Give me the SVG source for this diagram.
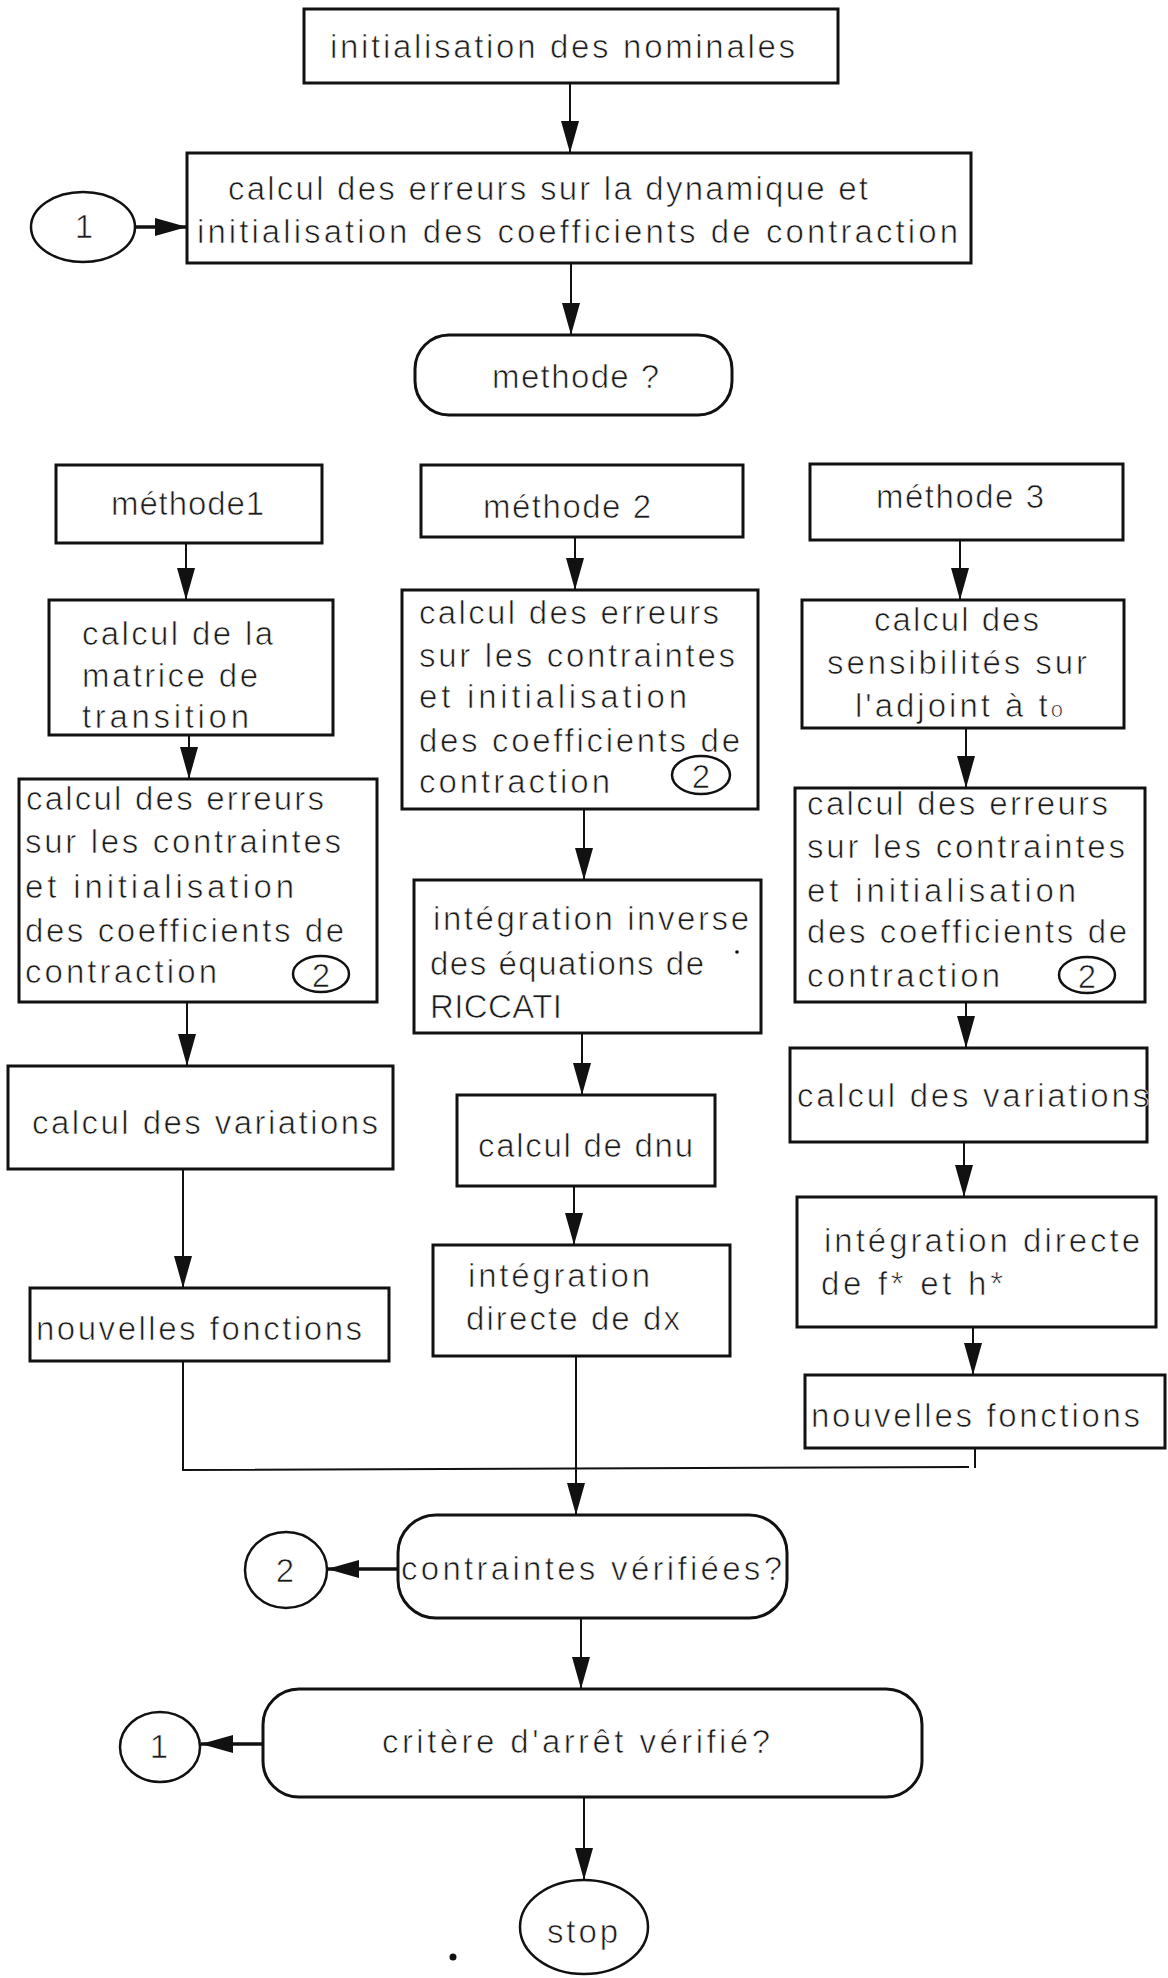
<svg xmlns="http://www.w3.org/2000/svg" width="1168" height="1978" viewBox="0 0 1168 1978">
<defs>
<style>
.box{fill:#fff;stroke:#111;stroke-width:3}
.ell{fill:#fff;stroke:#111;stroke-width:2.5}
.t{font-family:"Liberation Sans",Arial,sans-serif;font-size:33px;fill:#1a1a1a;stroke:#fff;stroke-width:0.7px}
.s{font-size:33px}
.m{text-anchor:middle}
.c{stroke:#111;stroke-width:2;fill:none}
.ck{stroke:#111;stroke-width:3.5;fill:none}
</style>
<marker id="ah" markerUnits="userSpaceOnUse" markerWidth="32" markerHeight="18" viewBox="0 0 32 18" refX="32" refY="9" orient="auto">
<path d="M0,0 L32,9 L0,18 Z" fill="#111"/>
</marker>
</defs>
<rect width="1168" height="1978" fill="#fff"/>

<g id="connectors">
<line class="c" x1="570" y1="83" x2="570" y2="153" marker-end="url(#ah)"/>
<line class="ck" x1="135" y1="227" x2="187" y2="227" marker-end="url(#ah)"/>
<line class="c" x1="571" y1="263" x2="571" y2="335" marker-end="url(#ah)"/>
<line class="c" x1="186" y1="543" x2="186" y2="600" marker-end="url(#ah)"/>
<line class="c" x1="189" y1="735" x2="189" y2="779" marker-end="url(#ah)"/>
<line class="c" x1="187" y1="1002" x2="187" y2="1066" marker-end="url(#ah)"/>
<line class="c" x1="183" y1="1169" x2="183" y2="1288" marker-end="url(#ah)"/>
<polyline class="c" points="183,1361 183,1470 969,1467"/>
<line class="c" x1="575" y1="537" x2="575" y2="590" marker-end="url(#ah)"/>
<line class="c" x1="584" y1="809" x2="584" y2="880" marker-end="url(#ah)"/>
<line class="c" x1="582" y1="1033" x2="582" y2="1095" marker-end="url(#ah)"/>
<line class="c" x1="574" y1="1186" x2="574" y2="1245" marker-end="url(#ah)"/>
<line class="c" x1="576" y1="1356" x2="576" y2="1515" marker-end="url(#ah)"/>
<line class="c" x1="960" y1="540" x2="960" y2="600" marker-end="url(#ah)"/>
<line class="c" x1="966" y1="728" x2="966" y2="788" marker-end="url(#ah)"/>
<line class="c" x1="966" y1="1002" x2="966" y2="1048" marker-end="url(#ah)"/>
<line class="c" x1="964" y1="1142" x2="964" y2="1197" marker-end="url(#ah)"/>
<line class="c" x1="973" y1="1327" x2="973" y2="1375" marker-end="url(#ah)"/>
<line class="c" x1="975" y1="1448" x2="975" y2="1468"/>
<line class="ck" x1="398" y1="1569" x2="327" y2="1569" marker-end="url(#ah)"/>
<line class="c" x1="581" y1="1618" x2="581" y2="1689" marker-end="url(#ah)"/>
<line class="ck" x1="263" y1="1744" x2="201" y2="1744" marker-end="url(#ah)"/>
<line class="c" x1="584" y1="1797" x2="584" y2="1880" marker-end="url(#ah)"/>
</g>

<g id="n-init">
<rect class="box" x="304" y="9" width="534" height="74"/>
<text class="t" x="330" y="58" textLength="465" lengthAdjust="spacing">initialisation des nominales</text>
</g>

<g id="n-c1">
<ellipse class="ell" cx="83" cy="227" rx="52" ry="35"/>
<text class="t m" x="84" y="238">1</text>
</g>

<g id="n-dyn">
<rect class="box" x="187" y="153" width="784" height="110"/>
<text class="t" x="228" y="200" textLength="640" lengthAdjust="spacing">calcul des erreurs sur la dynamique et</text>
<text class="t" x="197" y="243" textLength="761" lengthAdjust="spacing">initialisation des coefficients de contraction</text>
</g>

<g id="n-methode">
<rect class="box" x="415" y="335" width="317" height="80" rx="34"/>
<text class="t" x="492" y="388" textLength="167" lengthAdjust="spacing">methode ?</text>
</g>

<g id="n-m1">
<rect class="box" x="56" y="465" width="266" height="78"/>
<text class="t" x="111" y="515" textLength="153" lengthAdjust="spacing">méthode1</text>
</g>
<g id="n-m2">
<rect class="box" x="421" y="465" width="322" height="72"/>
<text class="t" x="483" y="518" textLength="168" lengthAdjust="spacing">méthode 2</text>
</g>
<g id="n-m3">
<rect class="box" x="810" y="464" width="313" height="76"/>
<text class="t" x="876" y="508" textLength="168" lengthAdjust="spacing">méthode 3</text>
</g>

<g id="n-matrice">
<rect class="box" x="49" y="600" width="284" height="135"/>
<text class="t" x="82" y="645" textLength="191" lengthAdjust="spacing">calcul de la</text>
<text class="t" x="82" y="687" textLength="176" lengthAdjust="spacing">matrice de</text>
<text class="t" x="82" y="728" textLength="167" lengthAdjust="spacing">transition</text>
</g>

<g id="n-err2">
<rect class="box" x="402" y="590" width="356" height="219"/>
<text class="t" x="419" y="624" textLength="300" lengthAdjust="spacing">calcul des erreurs</text>
<text class="t" x="419" y="667" textLength="316" lengthAdjust="spacing">sur les contraintes</text>
<text class="t" x="419" y="708" textLength="268" lengthAdjust="spacing">et initialisation</text>
<text class="t" x="419" y="752" textLength="321" lengthAdjust="spacing">des coefficients de</text>
<text class="t" x="419" y="793" textLength="191" lengthAdjust="spacing">contraction</text>
<ellipse class="ell" cx="701" cy="775" rx="29" ry="19"/>
<text class="t s m" x="701" y="788">2</text>
</g>

<g id="n-sens">
<rect class="box" x="802" y="600" width="322" height="128"/>
<text class="t" x="874" y="631" textLength="165" lengthAdjust="spacing">calcul des</text>
<text class="t" x="827" y="674" textLength="260" lengthAdjust="spacing">sensibilités sur</text>
<text class="t" x="855" y="717" textLength="208" lengthAdjust="spacing">l'adjoint à t<tspan font-size="22">o</tspan></text>
</g>

<g id="n-err1">
<rect class="box" x="19" y="779" width="358" height="223"/>
<text class="t" x="26" y="810" textLength="298" lengthAdjust="spacing">calcul des erreurs</text>
<text class="t" x="25" y="853" textLength="316" lengthAdjust="spacing">sur les contraintes</text>
<text class="t" x="25" y="898" textLength="269" lengthAdjust="spacing">et initialisation</text>
<text class="t" x="25" y="942" textLength="319" lengthAdjust="spacing">des coefficients de</text>
<text class="t" x="25" y="983" textLength="192" lengthAdjust="spacing">contraction</text>
<ellipse class="ell" cx="321" cy="974" rx="28" ry="18"/>
<text class="t s m" x="321" y="987">2</text>
</g>

<g id="n-err3">
<rect class="box" x="795" y="788" width="350" height="214"/>
<text class="t" x="807" y="815" textLength="301" lengthAdjust="spacing">calcul des erreurs</text>
<text class="t" x="807" y="858" textLength="318" lengthAdjust="spacing">sur les contraintes</text>
<text class="t" x="807" y="902" textLength="269" lengthAdjust="spacing">et initialisation</text>
<text class="t" x="807" y="943" textLength="320" lengthAdjust="spacing">des coefficients de</text>
<text class="t" x="807" y="987" textLength="193" lengthAdjust="spacing">contraction</text>
<ellipse class="ell" cx="1087" cy="975" rx="28" ry="18"/>
<text class="t s m" x="1087" y="988">2</text>
</g>

<g id="n-riccati">
<rect class="box" x="414" y="880" width="347" height="153"/>
<text class="t" x="433" y="930" textLength="316" lengthAdjust="spacing">intégration inverse</text>
<text class="t" x="430" y="975" textLength="274" lengthAdjust="spacing">des équations de</text>
<text class="t" x="430" y="1018" textLength="132" lengthAdjust="spacing">RICCATI</text>
<circle cx="737" cy="952" r="1.8" fill="#111"/>
</g>

<g id="n-dnu">
<rect class="box" x="457" y="1095" width="258" height="91"/>
<text class="t" x="478" y="1157" textLength="215" lengthAdjust="spacing">calcul de dnu</text>
</g>

<g id="n-var1">
<rect class="box" x="8" y="1066" width="385" height="103"/>
<text class="t" x="32" y="1134" textLength="346" lengthAdjust="spacing">calcul des variations</text>
</g>

<g id="n-var3">
<rect class="box" x="790" y="1048" width="357" height="94"/>
<text class="t" x="797" y="1107" textLength="352" lengthAdjust="spacing">calcul des variations</text>
</g>

<g id="n-intf">
<rect class="box" x="797" y="1197" width="359" height="130"/>
<text class="t" x="824" y="1252" textLength="316" lengthAdjust="spacing">intégration directe</text>
<text class="t" x="821" y="1295" textLength="182" lengthAdjust="spacing">de f* et h*</text>
</g>

<g id="n-nouv1">
<rect class="box" x="30" y="1288" width="359" height="73"/>
<text class="t" x="36" y="1340" textLength="326" lengthAdjust="spacing">nouvelles fonctions</text>
</g>

<g id="n-intdx">
<rect class="box" x="433" y="1245" width="297" height="111"/>
<text class="t" x="468" y="1287" textLength="182" lengthAdjust="spacing">intégration</text>
<text class="t" x="466" y="1330" textLength="214" lengthAdjust="spacing">directe de dx</text>
</g>

<g id="n-nouv3">
<rect class="box" x="805" y="1375" width="360" height="73"/>
<text class="t" x="811" y="1427" textLength="329" lengthAdjust="spacing">nouvelles fonctions</text>
</g>

<g id="n-contr">
<rect class="box" x="398" y="1515" width="389" height="103" rx="38"/>
<text class="t" x="401" y="1580" textLength="381" lengthAdjust="spacing">contraintes vérifiées?</text>
</g>

<g id="n-c2">
<ellipse class="ell" cx="286" cy="1570" rx="41" ry="38"/>
<text class="t m" x="285" y="1582">2</text>
</g>

<g id="n-critere">
<rect class="box" x="263" y="1689" width="659" height="108" rx="36"/>
<text class="t" x="382" y="1753" textLength="388" lengthAdjust="spacing">critère d'arrêt vérifié?</text>
</g>

<g id="n-c1b">
<ellipse class="ell" cx="160" cy="1747" rx="40" ry="35"/>
<text class="t m" x="159" y="1758">1</text>
</g>

<g id="n-stop">
<ellipse class="ell" cx="584" cy="1927" rx="64" ry="47"/>
<text class="t" x="547" y="1943" textLength="71" lengthAdjust="spacing">stop</text>
</g>

<circle cx="453" cy="1957" r="3.5" fill="#111"/>
</svg>
